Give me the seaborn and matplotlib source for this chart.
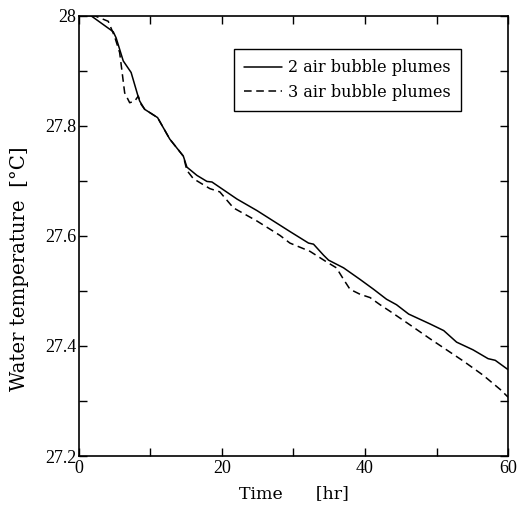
import matplotlib
matplotlib.use("Agg")
import matplotlib.pyplot as plt
from matplotlib.ticker import MultipleLocator
import pandas as pd
import seaborn as sns

# Water temperature records for the two aeration set-ups
time_2 = [0, 1.7, 4.8, 5.2, 6.2, 7.3, 8.2, 8.5, 9.2, 11.0, 12.7, 14.6, 15.1, 16.5,
          17.9, 18.6, 22.1, 24.9, 29.5, 32.1, 32.8, 34.2, 34.9, 37.0, 39.3, 41.2,
          43.0, 44.4, 46.1, 49.1, 51.0, 52.8, 55.1, 57.2, 58.2, 60]
temp_2 = [28.0, 28.0, 27.971, 27.960, 27.918, 27.897, 27.857, 27.845, 27.830, 27.815,
          27.776, 27.745, 27.725, 27.710, 27.699, 27.698, 27.667, 27.646, 27.608,
          27.587, 27.585, 27.565, 27.556, 27.542, 27.521, 27.503, 27.485, 27.475,
          27.458, 27.440, 27.428, 27.407, 27.393, 27.377, 27.374, 27.357]

time_3 = [0, 2.2, 4.1, 5.0, 5.7, 6.4, 7.1, 7.8, 8.3, 8.7, 9.2, 11.0, 12.7, 14.6, 15.1,
          16.0, 18.3, 19.7, 21.6, 24.9, 28.1, 29.5, 32.3, 34.6, 36.0, 37.0, 37.9,
          39.3, 40.7, 42.1, 43.5, 46.1, 49.1, 53.7, 56.5, 58.9, 60]
temp_3 = [28.0, 28.0, 27.990, 27.962, 27.933, 27.860, 27.842, 27.845, 27.854, 27.839,
          27.830, 27.815, 27.776, 27.745, 27.719, 27.704, 27.686, 27.680, 27.651,
          27.627, 27.601, 27.587, 27.572, 27.553, 27.542, 27.521, 27.503, 27.494,
          27.488, 27.475, 27.463, 27.440, 27.413, 27.373, 27.347, 27.321, 27.307]

label_2 = "2 air bubble plumes"
label_3 = "3 air bubble plumes"

df = pd.concat([
    pd.DataFrame({"time": time_2, "temp": temp_2, "case": label_2}),
    pd.DataFrame({"time": time_3, "temp": temp_3, "case": label_3}),
], ignore_index=True)

sns.set_style("ticks")
plt.rcParams["font.family"] = ["Liberation Serif", "DejaVu Serif"]
plt.rcParams["text.color"] = "black"
plt.rcParams["axes.labelcolor"] = "black"
plt.rcParams["xtick.color"] = "black"
plt.rcParams["ytick.color"] = "black"

TEXT_FONT = ["DejaVu Serif"]
DASH = (5, 3)

fig = plt.figure(figsize=(5.19, 5.09), dpi=100)
ax = fig.add_axes([0.152, 0.104, 0.827, 0.865])

sns.lineplot(data=df, x="time", y="temp", style="case", color="black",
             dashes={label_2: "", label_3: DASH}, linewidth=1.1,
             sort=False, ax=ax, legend=False)

ax.set_xlim(0, 60)
ax.set_ylim(27.2, 28.0)
ax.set_xticks([0, 20, 40, 60])
ax.set_xticklabels(["0", "20", "40", "60"])
ax.set_yticks([27.2, 27.4, 27.6, 27.8, 28.0])
ax.set_yticklabels(["27.2", "27.4", "27.6", "27.8", "28"])
ax.xaxis.set_minor_locator(MultipleLocator(10))
ax.yaxis.set_minor_locator(MultipleLocator(0.1))
ax.tick_params(which="both", direction="in", top=True, right=True,
               length=6, width=1.0, labelsize=13, colors="black")
ax.tick_params(axis="y", pad=2)
ax.tick_params(axis="x", pad=3)

for sp in ax.spines.values():
    sp.set_linewidth(1.2)
    sp.set_color("black")

ax.set_xlabel("Time      [hr]", fontsize=12.5, family=TEXT_FONT, labelpad=6,
              color="black")
ax.set_ylabel("Water temperature  [°C]", fontsize=14.2, family=TEXT_FONT,
              color="black")
ax.yaxis.set_label_coords(-0.117, 0.425)

handles = [
    plt.Line2D([], [], color="black", lw=1.1, ls="-"),
    plt.Line2D([], [], color="black", lw=1.1, ls=(0, DASH)),
]
leg = ax.legend(handles, [label_2, label_3], loc="upper right",
                bbox_to_anchor=(461 / 519, 1 - 49 / 509),
                bbox_transform=fig.transFigure, borderaxespad=0,
                prop={"family": TEXT_FONT, "size": 11.5},
                frameon=True, fancybox=False, edgecolor="black",
                handlelength=2.4, handletextpad=0.35, borderpad=0.65,
                labelspacing=0.45)
leg.get_frame().set_linewidth(1.0)
leg.get_frame().set_alpha(1.0)
for txt in leg.get_texts():
    txt.set_color("black")

fig.savefig("out.png", dpi=100, facecolor="white")
